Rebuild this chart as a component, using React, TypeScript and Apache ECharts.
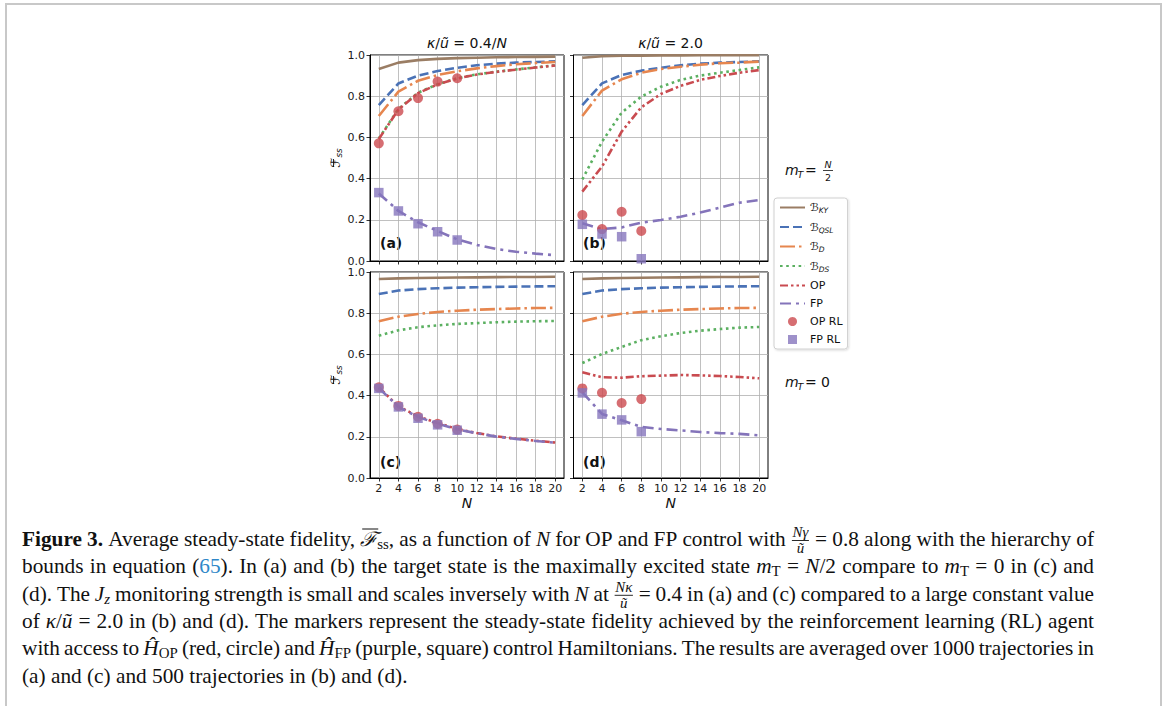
import React, { useEffect, useRef } from 'react';
import * as echarts from 'echarts';

// ---------------- DATA ----------------
const N_VALUES = [2, 4, 6, 8, 10, 12, 14, 16, 18, 20];
const X_TICKS = [2, 4, 6, 8, 10, 12, 14, 16, 18, 20];
const N_RL_AC = [2, 4, 6, 8, 10];
const N_RL_BD = [2, 4, 6, 8];

// panel (a): kappa/u = 0.4/N, m_T = N/2
const A_KY = [0.932, 0.963, 0.975, 0.981, 0.985, 0.987, 0.989, 0.99, 0.991, 0.992];
const A_QSL = [0.757, 0.862, 0.9, 0.922, 0.938, 0.95, 0.958, 0.963, 0.966, 0.969];
const A_D = [0.704, 0.822, 0.875, 0.903, 0.921, 0.935, 0.946, 0.955, 0.961, 0.966];
const A_DS = [0.595, 0.738, 0.817, 0.858, 0.887, 0.906, 0.919, 0.93, 0.94, 0.95];
const A_OP = [0.592, 0.735, 0.815, 0.857, 0.886, 0.905, 0.918, 0.929, 0.939, 0.949];
const A_FP = [0.328, 0.243, 0.188, 0.146, 0.105, 0.078, 0.058, 0.045, 0.036, 0.028];
const A_OP_RL = [0.571, 0.727, 0.791, 0.871, 0.887];
const A_FP_RL = [0.332, 0.243, 0.181, 0.142, 0.102];

// panel (b): kappa/u = 2.0, m_T = N/2
const B_KY = [0.987, 0.994, 0.996, 0.997, 0.998, 0.998, 0.999, 0.999, 0.999, 0.999];
const B_QSL = [0.757, 0.862, 0.903, 0.924, 0.938, 0.95, 0.958, 0.963, 0.966, 0.969];
const B_D = [0.704, 0.827, 0.882, 0.914, 0.932, 0.943, 0.953, 0.96, 0.963, 0.968];
const B_DS = [0.396, 0.579, 0.72, 0.798, 0.846, 0.879, 0.9, 0.914, 0.927, 0.94];
const B_OP = [0.337, 0.458, 0.628, 0.746, 0.811, 0.85, 0.879, 0.898, 0.914, 0.927];
const B_FP = [0.183, 0.155, 0.163, 0.186, 0.199, 0.215, 0.235, 0.259, 0.283, 0.296];
const B_OP_RL = [0.223, 0.155, 0.239, 0.146];
const B_FP_RL = [0.178, 0.131, 0.118, 0.011];

// panel (c): kappa/u = 0.4/N, m_T = 0
const C_KY = [0.966, 0.969, 0.971, 0.972, 0.973, 0.974, 0.975, 0.976, 0.976, 0.977];
const C_QSL = [0.893, 0.91, 0.917, 0.921, 0.924, 0.926, 0.928, 0.929, 0.93, 0.931];
const C_D = [0.761, 0.783, 0.796, 0.806, 0.812, 0.817, 0.82, 0.823, 0.825, 0.826];
const C_DS = [0.691, 0.717, 0.732, 0.741, 0.748, 0.752, 0.756, 0.759, 0.761, 0.762];
const C_OP = [0.44, 0.348, 0.299, 0.267, 0.238, 0.218, 0.202, 0.191, 0.181, 0.172];
const C_FP = [0.437, 0.345, 0.296, 0.264, 0.236, 0.217, 0.201, 0.19, 0.18, 0.171];
const C_OP_RL = [0.44, 0.35, 0.297, 0.263, 0.235];
const C_FP_RL = [0.435, 0.345, 0.29, 0.258, 0.232];

// panel (d): kappa/u = 2.0, m_T = 0
const D_KY = [0.966, 0.969, 0.971, 0.972, 0.973, 0.974, 0.975, 0.976, 0.976, 0.977];
const D_QSL = [0.893, 0.91, 0.917, 0.921, 0.924, 0.926, 0.928, 0.929, 0.93, 0.931];
const D_D = [0.761, 0.783, 0.797, 0.806, 0.812, 0.817, 0.82, 0.823, 0.825, 0.826];
const D_DS = [0.558, 0.602, 0.636, 0.669, 0.688, 0.704, 0.715, 0.723, 0.73, 0.733];
const D_OP = [0.513, 0.489, 0.487, 0.494, 0.497, 0.5, 0.498, 0.495, 0.49, 0.484];
const D_FP = [0.416, 0.311, 0.28, 0.248, 0.238, 0.231, 0.223, 0.218, 0.214, 0.207];
const D_OP_RL = [0.435, 0.414, 0.364, 0.383];
const D_FP_RL = [0.413, 0.31, 0.282, 0.225];

const SERIES_NAMES = ['ℬKY', 'ℬQSL', 'ℬD', 'ℬDS', 'OP', 'FP', 'OP RL', 'FP RL'];
const PANEL_LABELS = ['(a)', '(b)', '(c)', '(d)'];

type Seg = { t: string; b?: boolean; i?: boolean; sub?: boolean; col?: string; bar?: boolean; frac?: [string, string] };
const CAPTION: Seg[][] = [
  [
    { t: 'Figure 3.', b: true },
    { t: ' Average steady-state fidelity, ' },
    { t: 'ℱ', i: true, bar: true },
    { t: 'ss', sub: true },
    { t: ', as a function of ' },
    { t: 'N', i: true },
    { t: ' for OP and FP control with ' },
    { t: '', frac: ['Nγ', 'ũ'] },
    { t: ' = 0.8 along with the hierarchy of' },
  ],
  [
    { t: 'bounds in equation (' },
    { t: '65', col: '#2f87c8' },
    { t: '). In (a) and (b) the target state is the maximally excited state ' },
    { t: 'm', i: true },
    { t: 'T', sub: true },
    { t: ' = ' },
    { t: 'N', i: true },
    { t: '/2 compare to ' },
    { t: 'm', i: true },
    { t: 'T', sub: true },
    { t: ' = 0 in (c) and' },
  ],
  [
    { t: '(d). The ' },
    { t: 'J', i: true },
    { t: 'z', sub: true, i: true },
    { t: ' monitoring strength is small and scales inversely with ' },
    { t: 'N', i: true },
    { t: ' at ' },
    { t: '', frac: ['Nκ', 'ũ'] },
    { t: ' = 0.4 in (a) and (c) compared to a large constant value' },
  ],
  [
    { t: 'of ' },
    { t: 'κ', i: true },
    { t: '/' },
    { t: 'ũ', i: true },
    { t: ' = 2.0 in (b) and (d). The markers represent the steady-state fidelity achieved by the reinforcement learning (RL) agent' },
  ],
  [
    { t: 'with access to ' },
    { t: 'Ĥ', i: true },
    { t: 'OP', sub: true },
    { t: ' (red, circle) and ' },
    { t: 'Ĥ', i: true },
    { t: 'FP', sub: true },
    { t: ' (purple, square) control Hamiltonians. The results are averaged over 1000 trajectories in' },
  ],
  [{ t: '(a) and (c) and 500 trajectories in (b) and (d).' }],
];

// ---------------- STYLE ----------------
const SANS = 'DejaVu Sans';
const SERIF = 'Liberation Serif';
const COL = {
  KY: '#9a7d64',
  QSL: '#4a72b6',
  D: '#e6864f',
  DS: '#5bb061',
  OP: '#c94b50',
  FP: '#8474ba',
};
const LW = 2.6;
const LINE_STYLES: Record<string, any> = {
  'ℬKY': { color: COL.KY, width: LW, type: 'solid' },
  'ℬQSL': { color: COL.QSL, width: LW, type: [9, 4] },
  'ℬD': { color: COL.D, width: LW, type: [15, 4, 2.5, 4] },
  'ℬDS': { color: COL.DS, width: LW, type: [2.6, 3.6] },
  OP: { color: COL.OP, width: LW, type: [8, 3, 2.5, 3, 2.5, 3] },
  FP: { color: COL.FP, width: LW, type: [11, 5, 3, 5] },
};

const GRIDS = [
  { left: 370, top: 55, width: 194, height: 206 },
  { left: 573.5, top: 55, width: 194.5, height: 206 },
  { left: 370, top: 272, width: 194, height: 206 },
  { left: 573.5, top: 272, width: 194.5, height: 206 },
];

function buildCaption(): any[] {
  const cv = document.createElement('canvas');
  const ctx = cv.getContext('2d')!;
  const CAP = 20, SUB = 14, FR = 14;
  const fontStr = (size: number, it?: boolean, bd?: boolean) =>
    `${it ? 'italic ' : ''}${bd ? 'bold ' : ''}${size}px "${SERIF}"`;
  const meas = (t: string, size: number, it?: boolean, bd?: boolean) => {
    ctx.font = fontStr(size, it, bd);
    return ctx.measureText(t).width;
  };
  type Tok = { kind: 'text' | 'space' | 'frac'; t?: string; size?: number; it?: boolean; bd?: boolean; col?: string; dy?: number; bar?: boolean; w: number; frac?: [string, string] };
  const lines: Tok[][] = CAPTION.map((line) => {
    const toks: Tok[] = [];
    for (const s of line) {
      if (s.frac) {
        const wn = meas(s.frac[0], FR, true);
        const wd = meas(s.frac[1], FR, true);
        toks.push({ kind: 'frac', frac: s.frac, w: Math.max(wn, wd) + 3 });
        continue;
      }
      const size = s.sub ? SUB : CAP;
      const parts = s.t.split(/( )/);
      for (const p of parts) {
        if (!p) continue;
        if (p === ' ') toks.push({ kind: 'space', w: meas(' ', CAP) });
        else toks.push({ kind: 'text', t: p, size, it: s.i, bd: s.b, col: s.col, dy: s.sub ? 5 : 0, bar: s.bar, w: meas(p, size, s.i, s.b) });
      }
    }
    return toks;
  });
  const LEFT = 22, RIGHT = 1094, TOP = 539, LH = 27.4;
  const target = RIGHT - LEFT;
  const widths = lines.map((l) => l.reduce((a, t) => a + t.w, 0));
  let gs = 0;
  for (let i = 0; i < 5; i++) gs += target / widths[i];
  const g = gs / 5;
  const els: any[] = [];
  lines.forEach((toks, li) => {
    const y = TOP + li * LH;
    const nSpaces = toks.filter((t) => t.kind === 'space').length;
    const justify = li < lines.length - 1;
    const extra = justify && nSpaces ? (target - widths[li] * g) / nSpaces : 0;
    let x = LEFT;
    for (const t of toks) {
      if (t.kind === 'space') {
        x += t.w * g + extra;
        continue;
      }
      if (t.kind === 'frac') {
        const cx = x + (t.w * g) / 2;
        els.push({ type: 'text', x: cx, y: y - 6.5, scaleX: g, silent: true, style: { text: t.frac![0], fontFamily: SERIF, fontSize: FR, fontStyle: 'italic', fill: '#111', align: 'center', verticalAlign: 'middle' } });
        els.push({ type: 'line', silent: true, shape: { x1: x + 1, y1: y + 1.5, x2: x + t.w * g - 1, y2: y + 1.5 }, style: { stroke: '#111', lineWidth: 0.9 } });
        els.push({ type: 'text', x: cx, y: y + 9, scaleX: g, silent: true, style: { text: t.frac![1], fontFamily: SERIF, fontSize: FR, fontStyle: 'italic', fill: '#111', align: 'center', verticalAlign: 'middle' } });
        x += t.w * g;
        continue;
      }
      els.push({
        type: 'text',
        x,
        y: y + (t.dy || 0),
        scaleX: g,
        silent: true,
        style: {
          text: t.t,
          fontFamily: SERIF,
          fontSize: t.size,
          fontStyle: t.it ? 'italic' : 'normal',
          fontWeight: t.bd ? 'bold' : 'normal',
          fill: t.col || '#111',
          align: 'left',
          verticalAlign: 'middle',
        },
      });
      if (t.bar) {
        els.push({ type: 'line', silent: true, shape: { x1: x + 2, y1: y - 10, x2: x + t.w * g + 1, y2: y - 10 }, style: { stroke: '#111', lineWidth: 1 } });
      }
      x += t.w * g;
    }
  });
  return els;
}

function mLabel(x: number, y: number, frac: boolean): any[] {
  const els: any[] = [
    { type: 'text', x, y, silent: true, style: { text: 'm', fontFamily: SANS, fontSize: 14, fontStyle: 'italic', fill: '#111', verticalAlign: 'middle' } },
    { type: 'text', x: x + 12.5, y: y + 4, silent: true, style: { text: 'T', fontFamily: SANS, fontSize: 9.5, fontStyle: 'italic', fill: '#111', verticalAlign: 'middle' } },
    { type: 'text', x: x + 20, y, silent: true, style: { text: '=', fontFamily: SANS, fontSize: 14, fill: '#111', verticalAlign: 'middle' } },
  ];
  if (frac) {
    els.push({ type: 'text', x: x + 43, y: y - 6, silent: true, style: { text: 'N', fontFamily: SANS, fontSize: 9.5, fontStyle: 'italic', fill: '#111', align: 'center', verticalAlign: 'middle' } });
    els.push({ type: 'line', silent: true, shape: { x1: x + 38, y1: y + 0.5, x2: x + 48, y2: y + 0.5 }, style: { stroke: '#111', lineWidth: 0.8 } });
    els.push({ type: 'text', x: x + 43, y: y + 7, silent: true, style: { text: '2', fontFamily: SANS, fontSize: 9.5, fill: '#111', align: 'center', verticalAlign: 'middle' } });
  } else {
    els.push({ type: 'text', x: x + 36, y, silent: true, style: { text: '0', fontFamily: SANS, fontSize: 14, fill: '#111', verticalAlign: 'middle' } });
  }
  return els;
}

function buildOption(): any {
  const panels = [
    { KY: A_KY, QSL: A_QSL, D: A_D, DS: A_DS, OP: A_OP, FP: A_FP, OPRL: A_OP_RL, FPRL: A_FP_RL, nrl: N_RL_AC },
    { KY: B_KY, QSL: B_QSL, D: B_D, DS: B_DS, OP: B_OP, FP: B_FP, OPRL: B_OP_RL, FPRL: B_FP_RL, nrl: N_RL_BD },
    { KY: C_KY, QSL: C_QSL, D: C_D, DS: C_DS, OP: C_OP, FP: C_FP, OPRL: C_OP_RL, FPRL: C_FP_RL, nrl: N_RL_AC },
    { KY: D_KY, QSL: D_QSL, D: D_D, DS: D_DS, OP: D_OP, FP: D_FP, OPRL: D_OP_RL, FPRL: D_FP_RL, nrl: N_RL_BD },
  ];
  const grid = GRIDS.map((g) => ({ ...g, show: true, borderColor: '#000', borderWidth: 1, backgroundColor: 'transparent' }));
  const xAxis = GRIDS.map((_, i) => ({
    type: 'value',
    gridIndex: i,
    min: 1.1,
    max: 20.9,
    axisLine: { show: true, onZero: false, lineStyle: { color: '#000', width: 1 } },
    axisTick: { show: true, length: 3.5, lineStyle: { color: '#000', width: 0.8 }, customValues: X_TICKS },
    axisLabel: { show: i >= 2, customValues: X_TICKS, fontSize: 11, color: '#1a1a1a', margin: 5, fontFamily: SANS },
    splitLine: { show: true, lineStyle: { color: '#b0b0b0', width: 0.8 } },
    name: i >= 2 ? 'N' : '',
    nameLocation: 'middle',
    nameGap: 18,
    nameTextStyle: { fontStyle: 'italic', fontSize: 14, color: '#111', fontFamily: SANS },
  }));
  const yAxis = GRIDS.map((_, i) => ({
    type: 'value',
    gridIndex: i,
    min: 0,
    max: 1,
    interval: 0.2,
    axisLine: { show: true, onZero: false, lineStyle: { color: '#000', width: 1 } },
    axisTick: { show: true, length: 3.5, lineStyle: { color: '#000', width: 0.8 } },
    axisLabel: { show: i % 2 === 0, fontSize: 11, color: '#1a1a1a', margin: 5, fontFamily: SANS, formatter: (v: number) => v.toFixed(1) },
    splitLine: { show: true, lineStyle: { color: '#b0b0b0', width: 0.8 } },
    name: i % 2 === 0 ? '{f|ℱ}{s|ss}' : '',
    nameLocation: 'middle',
    nameGap: 24,
    nameRotate: 90,
    nameTextStyle: {
      color: '#111',
      rich: {
        f: { fontSize: 13, fontFamily: SANS, fontStyle: 'italic', color: '#111', lineHeight: 16 },
        s: { fontSize: 9, fontFamily: SANS, fontStyle: 'italic', color: '#111', verticalAlign: 'bottom', lineHeight: 10 },
      },
    },
  }));
  const series: any[] = [];
  panels.forEach((p, i) => {
    const lines: [string, number[]][] = [
      ['ℬKY', p.KY],
      ['ℬQSL', p.QSL],
      ['ℬD', p.D],
      ['ℬDS', p.DS],
      ['OP', p.OP],
      ['FP', p.FP],
    ];
    lines.forEach(([name, vals]) => {
      series.push({
        type: 'line',
        name,
        xAxisIndex: i,
        yAxisIndex: i,
        data: N_VALUES.map((n, k) => [n, vals[k]]),
        symbol: 'none',
        silent: true,
        color: LINE_STYLES[name].color,
        lineStyle: LINE_STYLES[name],
        z: 2,
      });
    });
    series.push({
      type: 'scatter',
      name: 'OP RL',
      xAxisIndex: i,
      yAxisIndex: i,
      data: p.nrl.map((n, k) => [n, p.OPRL[k]]),
      symbol: 'circle',
      symbolSize: 10,
      color: '#cc4a4f',
      itemStyle: { color: '#cc4a4f' },
      silent: true,
      z: 3,
    });
    series.push({
      type: 'scatter',
      name: 'FP RL',
      xAxisIndex: i,
      yAxisIndex: i,
      data: p.nrl.map((n, k) => [n, p.FPRL[k]]),
      symbol: 'rect',
      symbolSize: 9.5,
      color: '#8676bd',
      itemStyle: { color: '#8676bd' },
      silent: true,
      z: 4,
    });
  });

  // overline above the rotated script F of the y-axis names
  const yBars = [158, 375].map((cy) => ({
    type: 'line',
    silent: true,
    shape: { x1: 333.5, y1: cy + 1, x2: 333.5, y2: cy + 9 },
    style: { stroke: '#111', lineWidth: 0.9 },
  }));

  const graphicEls: any[] = [
    { type: 'rect', silent: true, shape: { x: 6, y: 4, width: 1155, height: 740 }, style: { fill: 'none', stroke: '#c8c8c8', lineWidth: 2 } },
    { type: 'text', x: 467, y: 43, silent: true, style: { text: '{i|κ}/{i|ũ} = 0.4/{i|N}', fontFamily: SANS, fontSize: 14, fill: '#111', align: 'center', verticalAlign: 'middle', rich: { i: { fontFamily: SANS, fontSize: 14, fontStyle: 'italic', fill: '#111' } } } },
    { type: 'text', x: 670.5, y: 43, silent: true, style: { text: '{i|κ}/{i|ũ} = 2.0', fontFamily: SANS, fontSize: 14, fill: '#111', align: 'center', verticalAlign: 'middle', rich: { i: { fontFamily: SANS, fontSize: 14, fontStyle: 'italic', fill: '#111' } } } },
    ...mLabel(785, 170, true),
    ...mLabel(785, 382, false),
    ...yBars,
  ];
  const labelPos = [
    [380, 243],
    [583, 243],
    [380, 462],
    [583, 462],
  ];
  PANEL_LABELS.forEach((l, i) => {
    graphicEls.push({ type: 'text', x: labelPos[i][0], y: labelPos[i][1], silent: true, style: { text: l, fontFamily: SANS, fontSize: 14, fontWeight: 'bold', fill: '#111', verticalAlign: 'middle' } });
  });
  graphicEls.push(...buildCaption());

  const lineNames = ['ℬKY', 'ℬQSL', 'ℬD', 'ℬDS', 'OP', 'FP'];

  return {
    animation: false,
    backgroundColor: '#fff',
    grid,
    xAxis,
    yAxis,
    series,
    legend: {
      data: SERIES_NAMES.map((n) =>
        n === 'OP RL'
          ? { name: n, icon: 'circle' }
          : n === 'FP RL'
          ? { name: n, icon: 'path://M0 0H10V10H0Z' }
          : lineNames.includes(n)
          ? { name: n, itemStyle: { opacity: 0, borderWidth: 0 } }
          : { name: n }
      ),
      orient: 'vertical',
      left: 774,
      top: 198,
      itemWidth: 25,
      itemHeight: 9,
      itemGap: 7,
      padding: [4, 5, 4, 5],
      borderColor: '#d0d0d0',
      borderWidth: 1,
      borderRadius: 3,
      backgroundColor: '#fff',
      shadowColor: 'rgba(0,0,0,0.15)',
      shadowBlur: 2,
      shadowOffsetX: 1,
      shadowOffsetY: 1,
      selectedMode: false,
      formatter: (name: string) => (name.startsWith('ℬ') ? `{b|ℬ}{s|${name.slice(1)}}` : name),
      textStyle: {
        fontFamily: SANS,
        fontSize: 11,
        color: '#111',
        rich: {
          b: { fontFamily: SANS, fontSize: 11, fontStyle: 'italic', color: '#111', lineHeight: 14 },
          s: { fontFamily: SANS, fontSize: 7.5, fontStyle: 'italic', color: '#111', verticalAlign: 'bottom', lineHeight: 9 },
        },
      },
    },
    graphic: { elements: graphicEls },
  };
}

export default function App() {
  const ref = useRef<HTMLDivElement>(null);
  useEffect(() => {
    const chart = echarts.init(ref.current!, null, { renderer: 'svg' });
    chart.setOption(buildOption());
    return () => chart.dispose();
  }, []);
  return (
    <div
      ref={ref}
      style={{ position: 'fixed', left: 0, top: 0, width: 1165, height: 706, background: '#fff' }}
    />
  );
}
